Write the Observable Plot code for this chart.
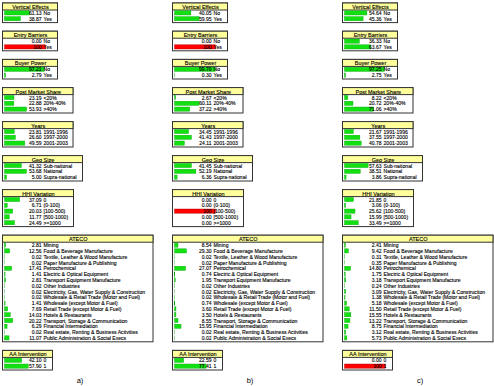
<!DOCTYPE html>
<html><head><meta charset="utf-8">
<script src="https://cdn.jsdelivr.net/npm/d3@7"></script>
<script src="https://cdn.jsdelivr.net/npm/@observablehq/plot@0.6"></script>
<style>body{margin:0;background:#fff} #chart{width:494px;height:386px;overflow:hidden}</style>
</head><body><div id="chart"></div>
<script>
// ---------- DATA ----------
const scenarios = ["a)", "b)", "c)"];
const nodeTitles = ["Vertical Effects", "Entry Barriers", "Buyer Power", "Post Market Share", "Years", "Geo Size", "HHI Variation", "ATECO", "AA Intervention"];

const verticalStates = ["No", "Yes"];
const verticalEffects = [[61.13, 38.87], [40.05, 59.95], [54.64, 45.36]];
const entryStates = ["No", "Yes"];
const entryBarriers = [[0.00, 100], [0.00, 100], [36.33, 63.67]];
const buyerStates = ["No", "Yes"];
const buyerPower = [[97.21, 2.79], [99.70, 0.30], [97.25, 2.75]];
const shareStates = ["<20%", "20%-40%", ">40%"];
const postMarketShare = [[23.19, 22.88, 53.93], [2.67, 60.11, 37.22], [8.22, 20.72, 71.06]];
const yearStates = ["1991-1996", "1997-2000", "2001-2003"];
const years = [[23.81, 26.60, 49.59], [34.45, 41.43, 24.11], [21.67, 37.55, 40.78]];
const geoStates = ["Sub-national", "National", "Supra-national"];
const geoSize = [[41.32, 53.68, 5.00], [41.45, 52.19, 6.36], [57.63, 38.51, 3.86]];
const hhiStates = ["0", "(0-100)", "[100-500)", "[500-1000)", ">=1000"];
const hhiVariation = [[37.09, 6.71, 20.03, 11.77, 24.49], [0.00, 0.00, 100, 0.00, 0.00], [21.85, 3.06, 25.62, 15.99, 33.49]];
const atecoStates = [
  "Mining", "Food & Beverage Manufacture", "Textile, Leather & Wood Manufacture",
  "Paper Manufacture & Publishing", "Petrochemical", "Electric & Optical Equipment",
  "Transport Equipment Manufacture", "Other Industries",
  "Electricity, Gas, Water Supply & Construction", "Wholesale & Retail Trade (Motor and Fuel)",
  "Wholesale (except Motor & Fuel)", "Retail Trade (except Motor & Fuel)", "Hotels & Restaurants",
  "Transport, Storage & Communication", "Financial Intermediation",
  "Real estate, Renting & Business Activities", "Public Administration & Social Execs"
];
const ateco = [
  [2.81, 12.56, 0.02, 0.02, 17.41, 1.41, 2.81, 0.02, 0.02, 0.02, 1.41, 7.69, 14.03, 20.22, 6.29, 0.02, 11.07],
  [8.54, 29.30, 0.02, 0.02, 27.07, 0.74, 1.95, 0.02, 0.02, 0.02, 0.74, 3.60, 3.50, 8.55, 15.95, 0.02, 0.02],
  [2.41, 9.42, 0.31, 0.35, 14.80, 1.75, 3.18, 0.24, 3.09, 1.38, 5.18, 11.50, 15.55, 13.22, 8.75, 3.12, 5.73]
];
const aaStates = ["0", "1"];
const aaIntervention = [[42.10, 57.90], [22.59, 77.41], [0.00, 100]];

const nodeStates = [verticalStates, entryStates, buyerStates, shareStates, yearStates, geoStates, hhiStates, atecoStates, aaStates];
const nodeValues = [verticalEffects, entryBarriers, buyerPower, postMarketShare, years, geoSize, hhiVariation, ateco, aaIntervention];

// ---------- LAYOUT (styles / sizes) ----------
const W = 494, H = 386;
const barFull = 41;               // px for 100 %
const U = 100 / barFull;          // x units (percent) per px
const u = px => px * U;
const colLeft = i => 2.5 + i * 170;
const nodeW = [55, 55, 55, 70.5, 70.5, 80, 71, 150.5, 50];
const titleH = 7, rowH = 5.8, padB = 1, gap = 8.6, top0 = 3;

const boxes = [], heads = [], bars = [], nums = [], labs = [], colLabs = [];
scenarios.forEach((s, c) => {
  const L = colLeft(c);
  let top = top0;
  nodeTitles.forEach((t, k) => {
    const st = nodeStates[k], vals = nodeValues[k][c];
    const h = titleH + st.length * rowH + padB;
    const w = nodeW[k];
    boxes.push({x1: u(L), x2: u(L + w), y1: top, y2: top + h});
    heads.push({x1: u(L), x2: u(L + w), y1: top, y2: top + titleH, xm: u(L + w / 2), ym: top + titleH / 2 + 0.3, text: t});
    st.forEach((name, r) => {
      const yc = top + titleH + (r + 0.5) * rowH;
      const v = vals[r];
      bars.push({x1: u(L + 2), v, y1: yc - 2.1, y2: yc + 2.1, finding: v === 100});
      nums.push({x: u(L + 38.5), y: yc, text: v === 100 ? "100" : v.toFixed(2)});
      labs.push({x: u(L + 40.5), y: yc, text: name});
    });
    top += h + gap;
  });
  colLabs.push({x: u(L + 77), y: top + 1.5, text: s});
});

const font = "Liberation Sans, Arial, sans-serif";
const txt = {fill: "#000", stroke: "#000", strokeWidth: 0.12, fontFamily: font};
const chart = Plot.plot({
  width: W, height: H, margin: 0,
  style: {background: "white"},
  x: {domain: [0, u(W)], range: [0, W], axis: null},
  y: {domain: [0, H], range: [0, H], axis: null},
  marks: [
    Plot.rect(boxes, {x1: "x1", x2: "x2", y1: "y1", y2: "y2", fill: "white", stroke: "#333", strokeWidth: 1}),
    Plot.rect(heads, {x1: "x1", x2: "x2", y1: "y1", y2: "y2", fill: "#ffff9c", stroke: "#333", strokeWidth: 1}),
    Plot.rect(bars, {x1: "x1", x2: d => d.x1 + d.v, y1: "y1", y2: "y2",
      fill: d => d.finding ? "#ff0000" : "#12e012", stroke: d => d.finding ? "#b00000" : "#0aa80a", strokeWidth: 0.4}),
    Plot.text(heads, {x: "xm", y: "ym", text: "text", fontSize: 5.5, ...txt}),
    Plot.text(nums, {x: "x", y: "y", text: "text", textAnchor: "end", fontSize: 5, ...txt}),
    Plot.text(labs, {x: "x", y: "y", text: "text", textAnchor: "start", fontSize: 5.1, ...txt}),
    Plot.text(colLabs, {x: "x", y: "y", text: "text", fontSize: 7.5, fill: "#000", fontFamily: font})
  ]
});
document.getElementById("chart").appendChild(chart);
</script>
</body></html>
